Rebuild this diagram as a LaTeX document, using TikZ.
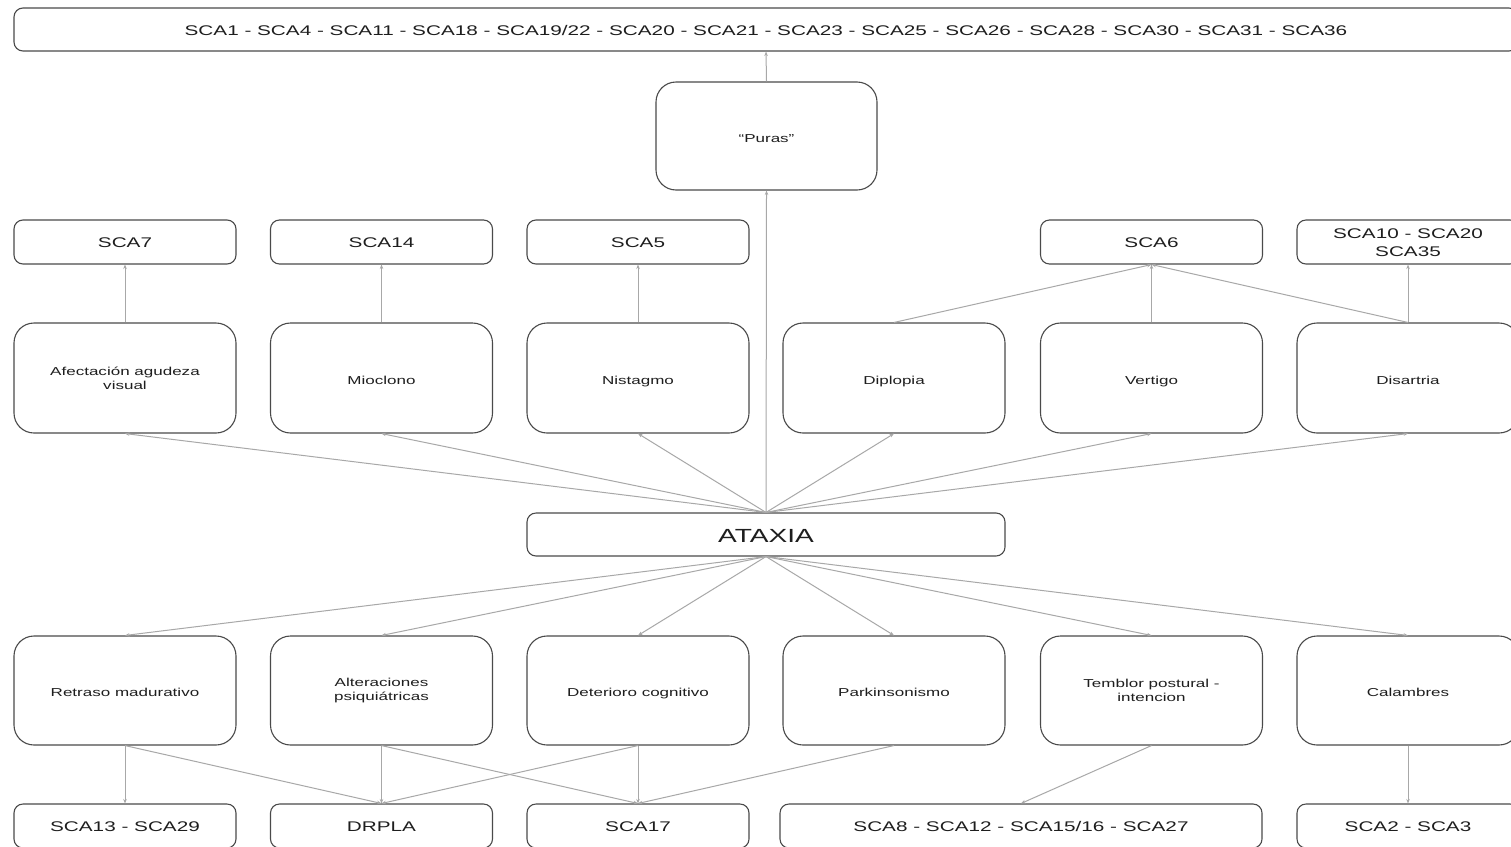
\documentclass[tikz,border=0pt]{standalone}
\usepackage{fontspec}
\setmainfont[FakeStretch=1.48]{Liberation Sans}
\usetikzlibrary{arrows.meta}
\definecolor{edgec}{HTML}{A8A8A8}
\definecolor{boxc}{HTML}{4A4A4A}
\definecolor{txtc}{HTML}{1E1E1E}
\tikzset{
  anybox/.style={draw=boxc, line width=1.1pt, inner sep=0pt, align=center, text=txtc, fill=white},
  sbox/.style={anybox, rounded corners=9pt, minimum height=44pt, minimum width=222pt,
    font=\fontsize{14}{18}\selectfont, text height=14.5pt, text depth=3pt},
  bbox/.style={anybox, rounded corners=20pt, minimum height=110pt, minimum width=222pt,
    font=\fontsize{11.5}{14}\selectfont, text height=14pt, text depth=2pt},
  two/.style={text height=, text depth=},
  conn/.style={draw=edgec, line width=1pt, -{Stealth[length=4.5pt,width=3.5pt]}}
}
\begin{document}
\begin{tikzpicture}[x=1pt,y=-1pt]
\clip (0,0) rectangle (1511,846);
\fill[white] (0,0) rectangle (1511,846);
% top
\node[sbox, minimum width=1504pt, minimum height=43pt] (top) at (766,29.5)
  {SCA1 - SCA4 - SCA11 - SCA18 - SCA19/22 - SCA20 - SCA21 - SCA23 - SCA25 - SCA26 - SCA28 - SCA30 - SCA31 - SCA36};
\node[bbox, minimum width=221pt, minimum height=108pt] (puras) at (766.5,136) {“Puras”};
% row 2
\node[sbox] (sca7)  at (125,242)   {SCA7};
\node[sbox] (sca14) at (381.5,242) {SCA14};
\node[sbox] (sca5)  at (638,242)   {SCA5};
\node[sbox] (sca6)  at (1151.5,242) {SCA6};
\node[sbox, two] (sca10) at (1408,242)  {\rule{0pt}{12pt}SCA10 - SCA20\\SCA35};
% row 3
\node[bbox, two] (afect) at (125,378)   {\rule{0pt}{9pt}Afectación agudeza\\visual};
\node[bbox] (mioc)  at (381.5,378) {Mioclono};
\node[bbox] (nist)  at (638,378)   {Nistagmo};
\node[bbox] (dipl)  at (894,378)   {Diplopia};
\node[bbox] (vert)  at (1151.5,378) {Vertigo};
\node[bbox] (disar) at (1408,378)  {Disartria};
% ataxia
\node[anybox, rounded corners=9pt, minimum width=478pt, minimum height=43pt,
  font=\fontsize{19}{22}\selectfont, text height=16pt, text depth=0pt] (ataxia) at (766,534.5) {ATAXIA};
% row 4
\node[bbox, minimum height=109pt] (retr)  at (125,690.5)   {Retraso madurativo};
\node[bbox, two, minimum height=109pt] (alter) at (381.5,690.5) {\rule{0pt}{9pt}Alteraciones\\psiquiátricas};
\node[bbox, minimum height=109pt] (deter) at (638,690.5)   {Deterioro cognitivo};
\node[bbox, minimum height=109pt] (park)  at (894,690.5)   {Parkinsonismo};
\node[bbox, two, minimum height=109pt] (temb)  at (1151.5,690.5) {\rule{0pt}{9pt}Temblor postural -\\intencion};
\node[bbox, minimum height=109pt] (calam) at (1408,690.5)  {Calambres};
% row 5
\node[sbox] (sca13) at (125,826)   {SCA13 - SCA29};
\node[sbox] (drpla) at (381.5,826) {DRPLA};
\node[sbox] (sca17) at (638,826)   {SCA17};
\node[sbox, minimum width=482pt] (sca8) at (1021,826) {SCA8 - SCA12 - SCA15/16 - SCA27};
\node[sbox] (sca2)  at (1408,826)  {SCA2 - SCA3};
% connectors up
\draw[conn] (puras.north) -- (top.south);
\draw[conn] (ataxia.north) -- (puras.south);
\foreach \n in {afect,mioc,nist,dipl,vert,disar}
  \draw[conn] (ataxia.north) -- (\n.south);
\draw[conn] (afect.north) -- (sca7.south);
\draw[conn] (mioc.north) -- (sca14.south);
\draw[conn] (nist.north) -- (sca5.south);
\draw[conn] (dipl.north) -- (sca6.south);
\draw[conn] (vert.north) -- (sca6.south);
\draw[conn] (disar.north) -- (sca6.south);
\draw[conn] (disar.north) -- (sca10.south);
% connectors down
\foreach \n in {retr,alter,deter,park,temb,calam}
  \draw[conn] (ataxia.south) -- (\n.north);
\draw[conn] (retr.south) -- (sca13.north);
\draw[conn] (retr.south) -- (drpla.north);
\draw[conn] (alter.south) -- (drpla.north);
\draw[conn] (alter.south) -- (sca17.north);
\draw[conn] (deter.south) -- (drpla.north);
\draw[conn] (deter.south) -- (sca17.north);
\draw[conn] (park.south) -- (sca17.north);
\draw[conn] (temb.south) -- (sca8.north);
\draw[conn] (calam.south) -- (sca2.north);
\end{tikzpicture}
\end{document}
